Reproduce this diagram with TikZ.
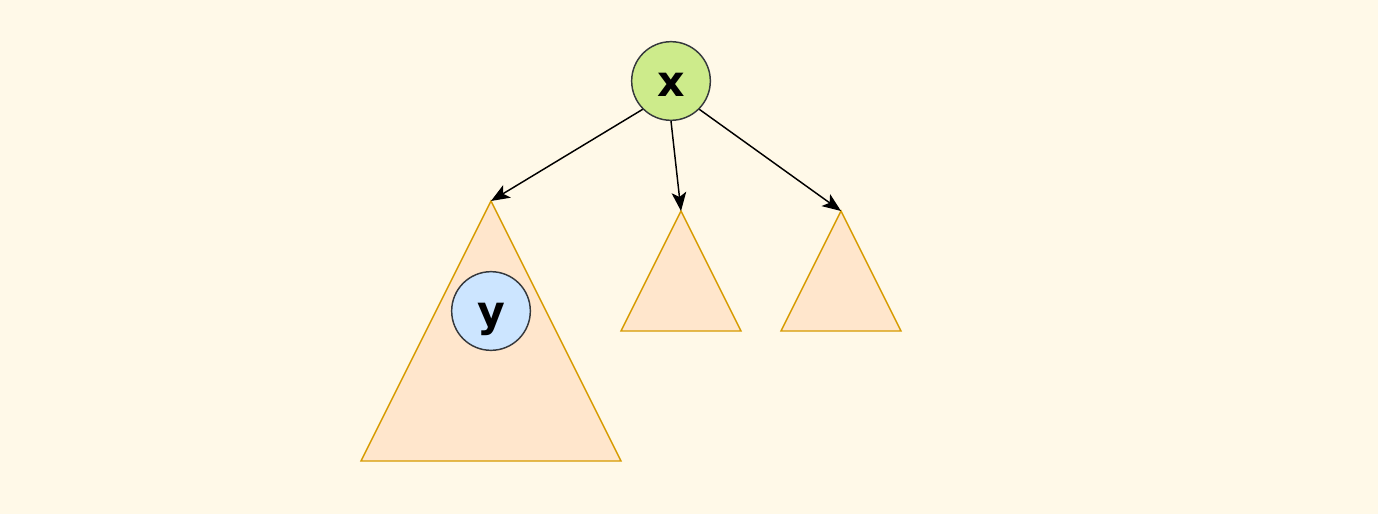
\documentclass[tikz,border=0pt]{standalone}
\usepackage{xcolor}
\usepackage{tikz}
\usepackage{fontspec}
\setmainfont{DejaVu Sans}
\usetikzlibrary{arrows.meta}

\definecolor{bgcream}{HTML}{FFF9E8}
\definecolor{xgreen}{HTML}{CDEB8B}
\definecolor{yblue}{HTML}{CCE5FF}
\definecolor{treefill}{HTML}{FFE6CC}
\definecolor{treeline}{HTML}{D79B00}
\definecolor{ringline}{HTML}{36393D}

\begin{document}
\begin{tikzpicture}[x=0.75pt, y=-0.75pt,
        key/.style={circle, draw=ringline, line width=1.1pt, minimum size=59pt, inner sep=0pt, text height=23pt, text depth=0pt, font=\fontsize{32}{32}\selectfont\bfseries},
        tree/.style={fill=treefill, draw=treeline, line width=1.1pt, line join=miter},
        edge/.style={-{Stealth[length=14pt, width=11pt, inset=3.5pt]}, line width=1.1pt}]
                        \fill[bgcream] (0, 0) rectangle (1378, 514);
                        \useasboundingbox (0, 0) rectangle (1378, 514);

                        \draw[tree] (491, 201) -- (621, 461) -- (361, 461) -- cycle;
                        \draw[tree] (681, 211) -- (741, 331) -- (621, 331) -- cycle;
                        \draw[tree] (841, 211) -- (901, 331) -- (781, 331) -- cycle;
                        \coordinate (left) at (491, 201);
                        \coordinate (mid) at (681, 211);
                        \coordinate (right) at (841, 211);

                        \node (x) at (671, 81) [key, fill=xgreen] {x};
                        \node (y) at (491, 311) [key, fill=yblue] {y};

                        \draw[edge] (x.south west) -- (left);
                        \draw[edge] (x.south) -- (mid);
                        \draw[edge] (x.south east) -- (right);
                    \end{tikzpicture}
\end{document}
